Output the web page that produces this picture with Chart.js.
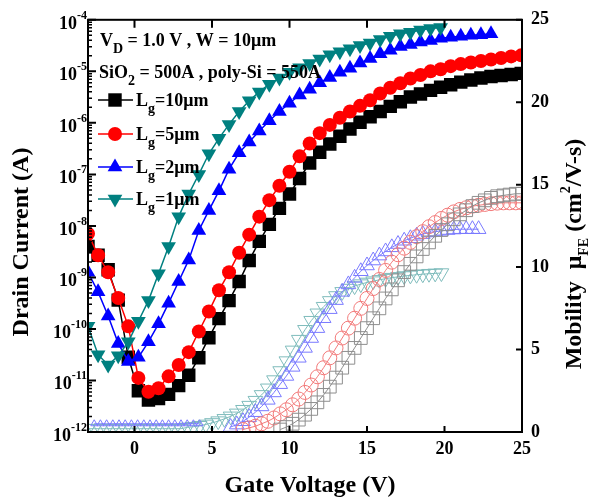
<!DOCTYPE html>
<html>
<head>
<meta charset="utf-8">
<script src="https://cdn.jsdelivr.net/npm/chart.js@4.4.0/dist/chart.umd.min.js"></script>
<style>
  html, body { margin: 0; padding: 0; background: #fff; }
</style>
</head>
<body>
<canvas id="chart" width="589" height="501"></canvas>
<script>
// Gate voltage steps of the drain current sweeps (V)
const vgId = [-3, -2.35, -1.7, -1.05, -0.4, 0.25, 0.9, 1.55, 2.2, 2.85, 3.5, 4.15, 4.8, 5.45, 6.1, 6.75, 7.4, 8.05, 8.7, 9.35,
  10, 10.65, 11.3, 11.95, 12.6, 13.25, 13.9, 14.55, 15.2, 15.85, 16.5, 17.15, 17.8, 18.45, 19.1, 19.75, 20.4, 21.05, 21.7, 22.35,
  23, 23.65, 24.3, 24.95];

// log10 of drain current (A)
const logId10um = [-8.4, -8.57, -8.85, -9.44, -10.55, -11.2, -11.38, -11.35, -11.27, -11.1, -10.9, -10.56, -10.17, -9.8, -9.45,
  -9.08, -8.67, -8.3, -7.97, -7.66, -7.38, -7.08, -6.78, -6.57, -6.41, -6.26, -6.12, -5.99, -5.88, -5.78, -5.68, -5.59, -5.5,
  -5.44, -5.37, -5.31, -5.26, -5.21, -5.17, -5.13, -5.1, -5.08, -5.06, -5.04];
const logId5um = [-8.15, -8.57, -8.9, -9.4, -9.95, -10.95, -11.22, -11.15, -10.92, -10.7, -10.45, -10.05, -9.66, -9.25, -8.9,
  -8.52, -8.17, -7.82, -7.5, -7.22, -6.95, -6.65, -6.4, -6.2, -6.04, -5.9, -5.78, -5.67, -5.56, -5.43, -5.32, -5.23, -5.14,
  -5.07, -5.0, -4.96, -4.9, -4.86, -4.83, -4.8, -4.77, -4.74, -4.71, -4.69];
const logId2um = [-8.9, -9.28, -9.75, -10.28, -10.63, -10.55, -10.25, -9.9, -9.5, -9.08, -8.66, -8.09, -7.7, -7.32, -6.9,
  -6.58, -6.37, -6.16, -5.96, -5.78, -5.62, -5.46, -5.35, -5.22, -5.12, -5.02, -4.94, -4.84, -4.75, -4.66, -4.59, -4.52, -4.48,
  -4.43, -4.4, -4.36, -4.34, -4.32, -4.3, -4.29, -4.27];
const logId1um = [-9.95, -10.5, -10.7, -10.52, -10.25, -9.85, -9.45, -8.93, -8.4, -7.82, -7.38, -7.0, -6.6, -6.3, -6.03,
  -5.78, -5.57, -5.4, -5.25, -5.13, -5.02, -4.93, -4.85, -4.76, -4.68, -4.62, -4.56, -4.5, -4.45, -4.38, -4.32, -4.27, -4.24,
  -4.2, -4.17, -4.15];

// Gate voltage steps of the mobility curves (V)
const vgMu = [-3, -2.6, -2.2, -1.8, -1.4, -1, -0.6, -0.2, 0.2, 0.6, 1, 1.4, 1.8, 2.2, 2.6, 3, 3.4, 3.8, 4.2, 4.6,
  5, 5.4, 5.8, 6.2, 6.6, 7, 7.4, 7.8, 8.2, 8.6, 9, 9.4, 9.8, 10.2, 10.6, 11, 11.4, 11.8, 12.2, 12.6,
  13, 13.4, 13.8, 14.2, 14.6, 15, 15.4, 15.8, 16.2, 16.6, 17, 17.4, 17.8, 18.2, 18.6, 19, 19.4, 19.8, 20.2, 20.6,
  21, 21.4, 21.8, 22.2, 22.6, 23, 23.4, 23.8, 24.2, 24.6, 25];

// Field effect mobility (cm2/V-s), null where no point is drawn
const mu10um = [null, null, null, null, null, null, null, null, null, null, null, null, null, null, null, null, null, null, null, null,
  null, null, null, null, null, null, null, null, null, null, null, 0.15, 0.3, 0.5, 0.75, 1.05, 1.4, 1.8, 2.25, 2.75,
  3.3, 3.9, 4.5, 5.1, 5.7, 6.3, 6.9, 7.5, 8.1, 8.65, 9.2, 9.7, 10.2, 10.65, 11.1, 11.5, 11.9, 12.25, 12.6, 12.9,
  13.2, 13.45, 13.7, 13.9, 14.05, 14.2, 14.3, 14.35, 14.4, 14.45, 14.45];
const mu5um = [null, null, null, null, null, null, null, null, null, null, null, null, null, null, null, null, null, null, null, null,
  null, null, null, null, null, 0.15, 0.25, 0.35, 0.5, 0.65, 0.85, 1.1, 1.35, 1.65, 2.0, 2.4, 2.85, 3.35, 3.9, 4.5,
  5.1, 5.7, 6.3, 6.9, 7.5, 8.1, 8.7, 9.25, 9.8, 10.3, 10.75, 11.15, 11.5, 11.85, 12.15, 12.45, 12.7, 12.95, 13.15, 13.35,
  13.5, 13.6, 13.7, 13.75, 13.8, 13.85, 13.88, 13.9, 13.9, 13.9, 13.9];
const mu2um = [null, 0.5, 0.5, 0.5, 0.5, 0.5, 0.5, 0.5, 0.5, 0.5, 0.5, 0.5, 0.5, 0.5, 0.5, 0.5, 0.5, 0.5, 0.5, null,
  null, null, null, 0.3, 0.45, 0.65, 0.9, 1.2, 1.55, 1.95, 2.4, 2.9, 3.4, 3.95, 4.5, 5.1, 5.7, 6.3, 6.9, 7.45,
  8.0, 8.5, 8.95, 9.35, 9.75, 10.1, 10.4, 10.7, 10.95, 11.2, 11.4, 11.6, 11.75, 11.9, 12.0, 12.1, 12.15, 12.2, 12.25, 12.28,
  12.3, 12.3, 12.3, 12.3, null, null, null, null, null, null, null];
const mu1um = [0.2, 0.2, 0.2, 0.2, 0.2, 0.2, 0.2, 0.2, 0.2, 0.2, 0.2, 0.2, 0.2, 0.2, 0.2, 0.2, 0.28, 0.32, 0.38, 0.46,
  0.55, 0.66, 0.8, 0.95, 1.13, 1.35, 1.6, 1.9, 2.25, 2.65, 3.15, 3.7, 4.3, 4.95, 5.6, 6.2, 6.75, 7.2, 7.6, 7.95,
  8.25, 8.5, 8.7, 8.85, 8.97, 9.07, 9.15, 9.23, 9.3, 9.36, 9.41, 9.46, 9.5, 9.54, 9.57, 9.6, 9.62, 9.64, null, null,
  null, null, null, null, null, null, null, null, null, null, null];

const xTicks = [0, 5, 10, 15, 20, 25];
const decades = [-12, -11, -10, -9, -8, -7, -6, -5, -4];
const muTicks = [0, 5, 10, 15, 20, 25];

const FONT = '"Liberation Serif", "Times New Roman", serif';

function idPoints(logs) {
    return logs.map((v, i) => ({ x: vgId[i], y: Math.pow(10, v) }));
}
function muPoints(vals) {
    return vals.map((v, i) => ({ x: vgMu[i], y: v }));
}

// text with sub / superscripts: parts = [text, scale, dy]
function drawRich(ctx, parts, x, y, size, align) {
    let total = 0;
    parts.forEach(p => {
        ctx.font = 'bold ' + Math.round(size * p[1]) + 'px ' + FONT;
        total += ctx.measureText(p[0]).width;
    });
    let cx = align === 'center' ? x - total / 2 : (align === 'right' ? x - total : x);
    ctx.textAlign = 'left';
    ctx.textBaseline = 'alphabetic';
    parts.forEach(p => {
        ctx.font = 'bold ' + Math.round(size * p[1]) + 'px ' + FONT;
        ctx.fillText(p[0], cx, y + p[2]);
        cx += ctx.measureText(p[0]).width;
    });
}

function drawMarker(ctx, shape, x, y, r) {
    ctx.beginPath();
    if (shape === 'rect') {
        const s = r * Math.SQRT1_2;
        ctx.rect(x - s, y - s, 2 * s, 2 * s);
    } else if (shape === 'circle') {
        ctx.arc(x, y, r, 0, Math.PI * 2);
    } else {
        const d = shape === 'down' ? -1 : 1;
        ctx.moveTo(x, y - d * r);
        ctx.lineTo(x + r * 0.866, y + d * r / 2);
        ctx.lineTo(x - r * 0.866, y + d * r / 2);
        ctx.closePath();
    }
    ctx.fill();
}

const legendItems = [
    { text: '=10\u03bcm', color: '#000000', shape: 'rect', r: 9.5 },
    { text: '=5\u03bcm', color: '#ff0000', shape: 'circle', r: 7 },
    { text: '=2\u03bcm', color: '#0000ff', shape: 'up', r: 8.5 },
    { text: '=1\u03bcm', color: '#008080', shape: 'down', r: 8.5 }
];
const legendY = [100, 134, 167, 199];

const decor = {
    id: 'decor',
    afterDatasetsDraw(chart) {
        const { ctx, chartArea: a, scales } = chart;
        ctx.save();
        ctx.fillStyle = '#000';
        ctx.strokeStyle = '#000';

        // frame and inward ticks
        ctx.lineWidth = 2;
        ctx.strokeRect(a.left, a.top, a.right - a.left, a.bottom - a.top);
        ctx.beginPath();
        xTicks.forEach(v => {
            const px = scales.x.getPixelForValue(v);
            ctx.moveTo(px, a.bottom); ctx.lineTo(px, a.bottom - 6);
            ctx.moveTo(px, a.top); ctx.lineTo(px, a.top + 8);
        });
        muTicks.forEach(v => {
            const py = scales.y2.getPixelForValue(v);
            ctx.moveTo(a.right, py); ctx.lineTo(a.right - 6, py);
        });
        decades.forEach(d => {
            const py = scales.y.getPixelForValue(Math.pow(10, d));
            ctx.moveTo(a.left, py); ctx.lineTo(a.left + 8, py);
        });
        ctx.stroke();
        ctx.lineWidth = 1.5;
        ctx.beginPath();
        decades.slice(0, -1).forEach(d => {
            for (let m = 2; m <= 9; m++) {
                const py = scales.y.getPixelForValue(m * Math.pow(10, d));
                ctx.moveTo(a.left, py); ctx.lineTo(a.left + 4, py);
            }
        });
        ctx.stroke();

        // left tick labels 10^n
        decades.forEach(d => {
            const py = scales.y.getPixelForValue(Math.pow(10, d));
            drawRich(ctx, [['10', 1, 0], [String(d), 0.67, -10]], a.left - 1, py + 9, 18, 'right');
        });

        // annotations
        drawRich(ctx, [['V', 1, 0], ['D', 0.78, 7], [' = 1.0 V , W = 10\u03bcm', 1, 0]], 100, 46, 18, 'left');
        drawRich(ctx, [['SiO', 1, 0], ['2', 0.75, 7], [' = 500A , poly-Si = 550A', 1, 0]], 99, 78, 18, 'left');

        // legend
        legendItems.forEach((it, i) => {
            const y = legendY[i];
            ctx.strokeStyle = it.color;
            ctx.fillStyle = it.color;
            ctx.lineWidth = 1.5;
            ctx.beginPath();
            ctx.moveTo(98, y); ctx.lineTo(133, y);
            ctx.stroke();
            drawMarker(ctx, it.shape, 115, y, it.r);
            ctx.fillStyle = '#000';
            drawRich(ctx, [['L', 1, 0], ['g', 0.75, 7], [it.text, 1, 0]], 136, y + 6, 18, 'left');
        });

        // axis titles
        ctx.fillStyle = '#000';
        drawRich(ctx, [['Gate Voltage (V)', 1, 0]], 310, 492, 24, 'center');
        ctx.save();
        ctx.translate(28, 242);
        ctx.rotate(-Math.PI / 2);
        drawRich(ctx, [['Drain Current (A)', 1, 0]], 0, 0, 24, 'center');
        ctx.restore();
        ctx.save();
        ctx.translate(581, 254);
        ctx.rotate(-Math.PI / 2);
        drawRich(ctx, [['Mobility  \u03bc', 1, 0], ['FE', 0.6, 7], [' (cm', 1, 0], ['2', 0.6, -11], ['/V-s)', 1, 0]], 0, 0, 24, 'center');
        ctx.restore();
        ctx.restore();
    }
};

function idSet(label, logs, color, style, r, rot, order) {
    return {
        label: label,
        data: idPoints(logs),
        yAxisID: 'y',
        showLine: true,
        borderColor: color,
        backgroundColor: color,
        borderWidth: 1.5,
        pointStyle: style,
        pointRotation: rot,
        pointRadius: r,
        pointBorderWidth: 0,
        pointBackgroundColor: color,
        clip: 0,
        order: order
    };
}
function muSet(label, vals, color, style, r, rot) {
    return {
        label: label,
        data: muPoints(vals),
        yAxisID: 'y2',
        showLine: true,
        spanGaps: false,
        borderColor: color,
        backgroundColor: 'rgba(0,0,0,0)',
        borderWidth: 1,
        pointStyle: style,
        pointRotation: rot,
        pointRadius: r,
        pointBorderWidth: 1,
        pointBorderColor: color,
        pointBackgroundColor: 'rgba(0,0,0,0)',
        clip: 0,
        order: 10
    };
}

const blueMu = muSet('mu 2um', mu2um, '#7a7aff', 'triangle', 8.5, 0);
blueMu.pointRadius = ctx => (ctx.raw && ctx.raw.x < 4.4 ? 4 : 8.5);

new Chart(document.getElementById('chart'), {
    type: 'scatter',
    data: {
        datasets: [
            muSet('mu 10um', mu10um, '#8e8e8e', 'rect', 9, 0),
            muSet('mu 5um', mu5um, '#f27a7a', 'circle', 7, 0),
            blueMu,
            muSet('mu 1um', mu1um, '#7fbcbc', 'triangle', 8.5, 180),
            idSet('Lg=10um', logId10um, '#000000', 'rect', 9.5, 0, 4),
            idSet('Lg=5um', logId5um, '#ff0000', 'circle', 7, 0, 3),
            idSet('Lg=2um', logId2um, '#0000ff', 'triangle', 8.5, 0, 2),
            idSet('Lg=1um', logId1um, '#008080', 'triangle', 8.5, 180, 1)
        ]
    },
    options: {
        responsive: false,
        animation: false,
        devicePixelRatio: 1,
        layout: { padding: { top: 15, left: 0, right: 0, bottom: 0 } },
        plugins: { legend: { display: false }, tooltip: { enabled: false } },
        scales: {
            x: {
                type: 'linear',
                position: 'bottom',
                min: -3,
                max: 25,
                afterBuildTicks: s => { s.ticks = xTicks.map(v => ({ value: v })); },
                afterFit: s => { s.height = 69; },
                grid: { display: false, drawTicks: false },
                border: { display: false },
                ticks: { color: '#000', padding: 7, maxRotation: 0, font: { family: FONT, size: 18, weight: 'bold' } }
            },
            y: {
                type: 'logarithmic',
                position: 'left',
                min: 1e-12,
                max: 1e-4,
                afterBuildTicks: s => { s.ticks = decades.map(d => ({ value: Math.pow(10, d) })); },
                afterFit: s => { s.width = 88; },
                grid: { display: false, drawTicks: false },
                border: { display: false },
                ticks: { display: false }
            },
            y2: {
                type: 'linear',
                position: 'right',
                min: 0,
                max: 25,
                afterBuildTicks: s => { s.ticks = muTicks.map(v => ({ value: v })); },
                afterFit: s => { s.width = 67; },
                grid: { display: false, drawTicks: false },
                border: { display: false },
                ticks: { color: '#000', padding: 9, font: { family: FONT, size: 18, weight: 'bold' } }
            }
        }
    },
    plugins: [decor]
});
</script>
</body>
</html>
